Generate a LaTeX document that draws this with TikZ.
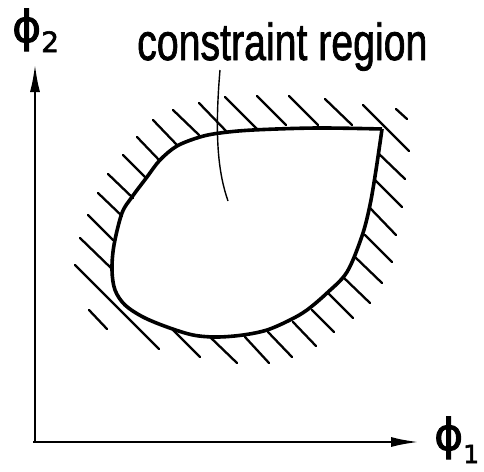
\documentclass[tikz,border=0pt]{standalone}
\usepackage{graphicx}
\usepackage{fontspec}
\setmainfont{Liberation Sans}
\newfontfamily\labelfont{Liberation Sans}[RawFeature={embolden=1.6}]
\newfontfamily\greekfont{DejaVu Sans}[RawFeature={embolden=2}]
\usepackage{tikz}
\usetikzlibrary{arrows.meta,positioning}

\begin{document}
\begin{tikzpicture}[x=1pt, y=-1pt, >={Latex[length=28pt,width=10pt]},
  axis/.style={line width=2.4pt, ->},
  rim/.style={line width=3.6pt, line join=round},
  hatch/.style={line width=2.3pt, line cap=round},
  leader/.style={line width=1.4pt},
  lbl/.style={inner sep=0pt, anchor=base west}]
  \useasboundingbox (0,0) rectangle (484,471);
  % axes
  \coordinate (O) at (35,442);
  \coordinate (ytip) at (35,64);
  \coordinate (xtip) at (419,442);
  \draw[axis] (O) -- (ytip);
  \draw[axis] (33,442) -- (xtip);
  \node[lbl, font=\greekfont\fontsize{44}{48}\selectfont] (phitwo) at (12,42)
    {ϕ\raisebox{-10pt}{\fontsize{28}{30}\selectfont 2}};
  \node[lbl, font=\greekfont\fontsize{44}{48}\selectfont] (phione) at (434,450)
    {ϕ\raisebox{-13pt}{\fontsize{25}{28}\selectfont 1}};
  % boundary of the region
  \draw[rim] plot[smooth, tension=0.55] coordinates {
    (382,129) (317,128) (253,130) (220,133) (200,137) (177,146) (160,160)
    (147,177) (132,197) (122,213) (114,245) (112,270) (115,290) (125,305)
    (143,317) (167,327) (193,335) (217,337) (243,335) (267,330) (290,320)
    (307,310) (327,293) (347,272) (362,236) (370,205) (376,170) (382,129)};
  % hatching, outside the boundary
  \foreach \xa/\ya/\xb/\yb in {
    80/238/111/268, 88/215/113/240, 98/193/122/216, 108/174/133/198,
    123/155/146/178, 137/137/160/161, 153/120/177/145, 173/110/199/135,
    199/103/227/132, 225/97/257/129, 257/96/286/125, 289/96/318/125,
    325/99/352/125, 363/105/409/151, 396/109/407/119,
    378/153/405/179, 375/180/402/207, 370/208/396/235, 365/235/392/262,
    355/257/382/283, 343/277/370/303, 328/293/353/318, 312/310/334/332,
    293/322/316/346, 268/332/292/357, 245/337/269/363, 210/337/237/363,
    173/330/200/357, 75/265/159/349, 89/310/107/329}
    \draw[hatch] (\xa,\ya) -- (\xb,\yb);
  % label and its leader
  \node[lbl, font=\labelfont\fontsize{52}{60}\selectfont] (label) at (137,60)
    {\scalebox{0.755}[1]{constraint region}};
  \coordinate (leadtop) at (220,70);
  \coordinate (leadend) at (228,201);
  \draw[leader] (leadtop) .. controls (214,140) and (219,175) .. (leadend);
\end{tikzpicture}
\end{document}
